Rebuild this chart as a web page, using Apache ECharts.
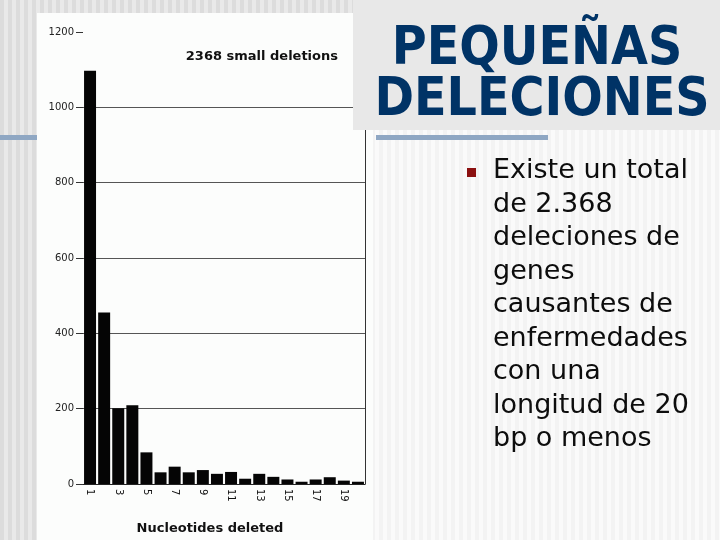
<!DOCTYPE html>
<html>
<head>
<meta charset="utf-8">
<script src="https://cdn.jsdelivr.net/npm/echarts@6/dist/echarts.min.js"></script>
<style>
  html, body { margin: 0; padding: 0; }
  #main { width: 720px; height: 540px; }
</style>
</head>
<body>
<div id="main"></div>
<script>
// datos
const categories = ['1','2','3','4','5','6','7','8','9','10','11','12','13','14','15','16','17','18','19','20'];
const deletions = [1097, 455, 201, 209, 84, 31, 46, 31, 37, 27, 32, 14, 27, 19, 12, 6, 12, 18, 9, 6];
const yMin = 0, yMax = 1200, yStep = 200;
const chartTitle = '2368 small deletions';
const xName = 'Nucleotides deleted';
const slideTitle = ['PEQUEÑAS', 'DELECIONES'];
const bulletLines = [
  'Existe un total',
  'de 2.368',
  'deleciones de',
  'genes',
  'causantes de',
  'enfermedades',
  'con una',
  'longitud de 20',
  'bp o menos'
];

let chart = echarts.init(document.getElementById('main'), null, {renderer: 'canvas'});

// fondo de la diapositiva (rayas verticales)
let deco = [];
deco.push({type: 'rect', z: -20, shape: {x: 0, y: 0, width: 720, height: 540}, style: {fill: '#e9e9e9'}});
for (let x = 0; x < 720; x += 8) {
  deco.push({type: 'rect', z: -19, shape: {x: x, y: 0, width: 4, height: 540}, style: {fill: '#dcdcdc'}});
}
deco.push({type: 'rect', z: -18, shape: {x: 373, y: 130, width: 347, height: 410}, style: {fill: '#f3f3f3'}});
for (let x = 375; x < 720; x += 8) {
  deco.push({type: 'rect', z: -17, shape: {x: x, y: 130, width: 4, height: 410}, style: {fill: '#fafafa'}});
}
// panel blanco del grafico
deco.push({type: 'rect', z: -16, shape: {x: 37, y: 13, width: 336, height: 527}, style: {fill: '#fcfdfc'}});
// lineas azules
deco.push({type: 'rect', z: -15, shape: {x: 0, y: 135, width: 37, height: 5}, style: {fill: '#8fa7c3'}});
deco.push({type: 'rect', z: -15, shape: {x: 376, y: 135, width: 172, height: 5}, style: {fill: '#8fa7c3'}});
// caja del titulo
deco.push({type: 'rect', z: 50, shape: {x: 353, y: 0, width: 367, height: 130}, style: {fill: '#e8e8e8'}});
deco.push({type: 'text', z: 51, x: 537, y: 50, style: {
  text: slideTitle[0], fill: '#003366', font: 'bold 53px "DejaVu Sans Condensed", "DejaVu Sans", sans-serif',
  textAlign: 'center', textVerticalAlign: 'middle'}});
deco.push({type: 'text', z: 51, x: 542, y: 101, style: {
  text: slideTitle[1], fill: '#003366', font: 'bold 53px "DejaVu Sans Condensed", "DejaVu Sans", sans-serif',
  textAlign: 'center', textVerticalAlign: 'middle'}});
// vineta y texto
deco.push({type: 'rect', z: 51, shape: {x: 467, y: 168, width: 9, height: 9}, style: {fill: '#8b1010'}});
for (let i = 0; i < bulletLines.length; i++) {
  deco.push({type: 'text', z: 51, x: 493, y: 181 + i * 33.5 - 9.7, style: {
    text: bulletLines[i], fill: '#0d0d0d', font: '27px "DejaVu Sans", sans-serif',
    textAlign: 'left', textVerticalAlign: 'middle'}});
}

let option = {
  backgroundColor: 'transparent',
  animation: false,
  title: {
    text: chartTitle,
    right: 377,
    top: 45,
    textStyle: {fontFamily: 'DejaVu Sans', fontSize: 13, fontWeight: 'bold', color: '#111'}
  },
  grid: {left: 83, right: 355, top: 32, bottom: 56, containLabel: false},
  xAxis: {
    type: 'category',
    data: categories,
    name: xName,
    nameLocation: 'middle',
    nameGap: 38,
    nameTextStyle: {fontFamily: 'DejaVu Sans', fontSize: 13, fontWeight: 'bold', color: '#111', padding: [0, 28, 0, 0]},
    axisLine: {lineStyle: {color: '#222', width: 1}},
    axisTick: {interval: 1, length: 4, lineStyle: {color: '#222'}},
    axisLabel: {interval: 1, rotate: -90, margin: 5, fontFamily: 'DejaVu Sans', fontSize: 10, color: '#111'}
  },
  yAxis: [
    {
      type: 'value',
      min: yMin, max: yMax, interval: yStep,
      axisLine: {show: false},
      axisTick: {show: true, length: 7, lineStyle: {color: '#333'}},
      axisLabel: {margin: 9, fontFamily: 'DejaVu Sans', fontSize: 10, color: '#222',
        formatter: function (v) { return String(v); }},
      splitLine: {lineStyle: {color: ['#444', '#555', '#555', '#555', '#555', '#555', 'transparent'], width: 1}}
    },
    {
      type: 'value',
      position: 'right',
      min: yMin, max: yMax, interval: yStep,
      axisLine: {show: true, lineStyle: {color: '#333', width: 1}},
      axisTick: {show: false},
      axisLabel: {show: false},
      splitLine: {show: false}
    }
  ],
  series: [{
    name: chartTitle,
    type: 'bar',
    data: deletions,
    barWidth: '85%',
    itemStyle: {color: '#050505'}
  }],
  graphic: deco
};

chart.setOption(option);
</script>
</body>
</html>
